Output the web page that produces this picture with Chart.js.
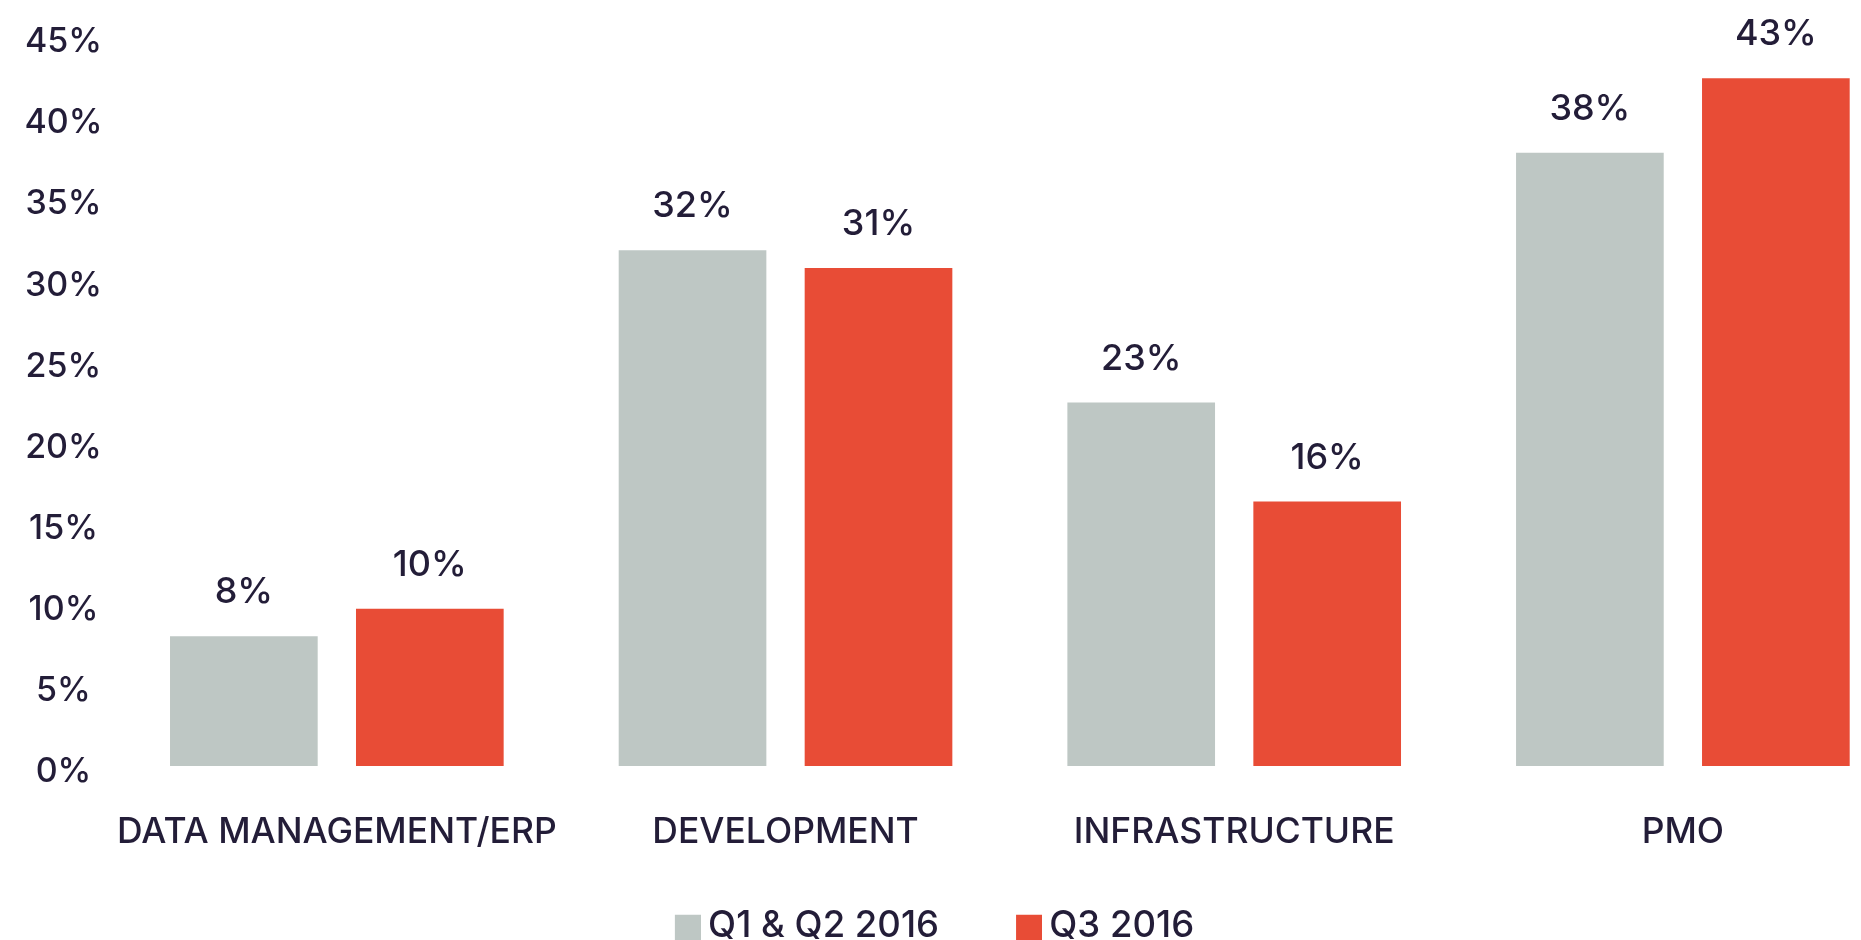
<!DOCTYPE html>
<html>
<head>
<meta charset="utf-8">
<script src="https://cdn.jsdelivr.net/npm/chart.js@4.4.0/dist/chart.umd.min.js"></script>
<style>
  html, body { margin: 0; padding: 0; background: #fff; overflow: hidden; }
  #wrap { width: 1861px; height: 940px; }
</style>
</head>
<body>
<div id="wrap"><canvas id="chart"></canvas></div>
<script>
// Chart data
const categories = ['DATA MANAGEMENT/ERP', 'DEVELOPMENT', 'INFRASTRUCTURE', 'PMO'];
const seriesNames = ['Q1 & Q2 2016', 'Q3 2016'];
const firstHalf = [8.0, 31.8, 22.4, 37.8];      // bar heights, %
const thirdQuarter = [9.7, 30.7, 16.3, 42.4];   // bar heights, %
const firstHalfLabels = ['8%', '32%', '23%', '38%'];
const thirdQuarterLabels = ['10%', '31%', '16%', '43%'];
const yTicks = [0, 5, 10, 15, 20, 25, 30, 35, 40, 45];

const textColor = '#231d38';
const greyColor = '#bec7c4';
const redColor = '#e84c36';
const fontFamily = 'Inter, "DejaVu Sans", sans-serif';

// legend swatch: a wide image with the square at its right end,
// the empty left part gives the space between the two legend items
function swatch(color) {
  const c = document.createElement('canvas');
  c.width = 84;
  c.height = 30;
  const g = c.getContext('2d');
  g.fillStyle = color;
  g.fillRect(58, 4, 26, 26);
  return c;
}

// value labels above the bars
const barLabels = {
  id: 'barLabels',
  afterDatasetsDraw(chart) {
    const ctx = chart.ctx;
    ctx.save();
    ctx.font = `500 36px ${fontFamily}`;
    ctx.fillStyle = textColor;
    ctx.textAlign = 'center';
    ctx.textBaseline = 'alphabetic';
    chart.data.datasets.forEach((ds, di) => {
      chart.getDatasetMeta(di).data.forEach((bar, i) => {
        ctx.fillText(ds.shownLabels[i], bar.x, bar.y - 33);
      });
    });
    ctx.restore();
  }
};

const toPoints = values => values.map((v, i) => ({ x: i, y: v }));

const ctx = document.getElementById('chart').getContext('2d');
new Chart(ctx, {
  type: 'bar',
  data: {
    datasets: [
      {
        label: seriesNames[0],
        data: toPoints(firstHalf),
        shownLabels: firstHalfLabels,
        backgroundColor: greyColor,
        pointStyle: swatch(greyColor),
        barPercentage: 0.794,
        categoryPercentage: 0.829,
      },
      {
        label: seriesNames[1],
        data: toPoints(thirdQuarter),
        shownLabels: thirdQuarterLabels,
        backgroundColor: redColor,
        pointStyle: swatch(redColor),
        barPercentage: 0.794,
        categoryPercentage: 0.829,
      },
    ],
  },
  options: {
    responsive: true,
    maintainAspectRatio: false,
    animation: false,
    layout: { padding: { top: 36, left: -39, right: 0, bottom: -14 } },
    scales: {
      x: {
        type: 'linear',
        offset: false,
        min: -0.5,
        max: 3.397,
        border: { display: false },
        grid: { display: false, drawTicks: false },
        ticks: {
          padding: 45,
          autoSkip: false,
          maxRotation: 0,
          color: textColor,
          font: { family: fontFamily, size: 35.5, weight: '500' },
          callback: v => categories[v] ?? '',
        },
        afterBuildTicks: scale => {
          scale.ticks = categories.map((c, i) => ({ value: i }));
        },
        afterFit: scale => {
          scale.paddingLeft = 0;
          scale.paddingRight = 0;
          scale.height = 111.5;
        },
      },
      y: {
        min: yTicks[0],
        max: yTicks[yTicks.length - 1],
        border: { display: false },
        grid: { display: false, drawTicks: false },
        ticks: {
          stepSize: 5,
          padding: 10,
          crossAlign: 'center',
          labelOffset: 6,
          color: textColor,
          font: { family: fontFamily, size: 34, weight: '500' },
          callback: v => v + '%',
        },
        afterBuildTicks: scale => {
          scale.ticks = yTicks.map(v => ({ value: v }));
        },
        afterFit: scale => {
          scale.width = 151.5;
        },
      },
    },
    plugins: {
      legend: {
        position: 'bottom',
        labels: {
          usePointStyle: true,
          pointStyleWidth: 62,
          padding: 30,
          color: textColor,
          font: { family: fontFamily, size: 36.5, weight: '500' },
        },
      },
      tooltip: { enabled: false },
    },
  },
  plugins: [barLabels],
});
</script>
</body>
</html>
